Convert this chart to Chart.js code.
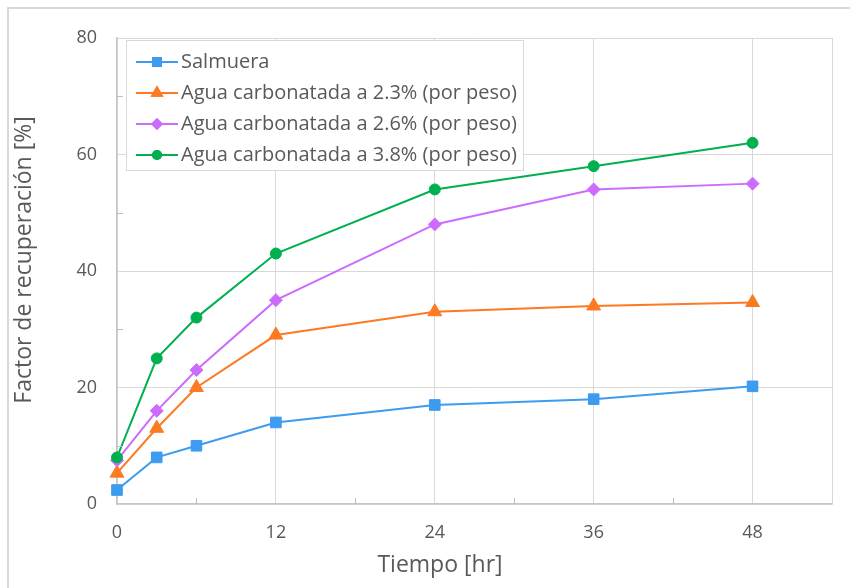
<!DOCTYPE html>
<html>
<head>
<meta charset="utf-8">
<title>Factor de recuperación</title>
<script src="https://cdn.jsdelivr.net/npm/chart.js@4.4.1/dist/chart.umd.min.js"></script>
<style>
  html, body { margin: 0; padding: 0; background: #fff; }
</style>
</head>
<body>
<canvas id="recuperacion" width="850" height="588"></canvas>
<script>
// tiempo de ensayo [hr] y factor de recuperación [%] por fluido
var tiempo = [0, 3, 6, 12, 24, 36, 48];
var salmuera = [2.4, 8, 10, 14, 17, 18, 20.2];
var agua23 = [5.3, 13, 20, 29, 33, 34, 34.6];
var agua26 = [7.5, 16, 23, 35, 48, 54, 55];
var agua38 = [8, 25, 32, 43, 54, 58, 62];

var nombres = [
  'Salmuera',
  'Agua carbonatada a 2.3% (por peso)',
  'Agua carbonatada a 2.6% (por peso)',
  'Agua carbonatada a 3.8% (por peso)'
];
var xTicks = [0, 12, 24, 36, 48];
var yTicks = [0, 20, 40, 60, 80];

var colores = ['#3d9bf0', '#fb7a22', '#cc6cff', '#00b050'];
var marcas = ['rect', 'triangle', 'rectRot', 'circle'];
var radios = [7.5, 8, 6.5, 5.5];
var series = [salmuera, agua23, agua26, agua38];

var gris = '#595959';
var fuente = "'Open Sans', 'Noto Sans', sans-serif";

function puntos(valores) {
  return tiempo.map(function (t, i) { return { x: t, y: valores[i] }; });
}

// icono de leyenda: linea con el marcador en el centro
function icono(i) {
  var c = document.createElement('canvas');
  c.width = 44; c.height = 20;
  var g = c.getContext('2d');
  g.strokeStyle = colores[i];
  g.lineWidth = 2;
  g.beginPath(); g.moveTo(1, 10); g.lineTo(43, 10); g.stroke();
  g.fillStyle = colores[i];
  Chart.helpers.drawPoint(g, { pointStyle: marcas[i], radius: radios[i] - 0.5, borderWidth: 0 }, 22, 10);
  g.fill();
  return c;
}

// marcas menores hacia dentro del area de trazado
var marcasMenores = {
  id: 'marcasMenores',
  afterDatasetsDraw: function (chart) {
    var ctx = chart.ctx, a = chart.chartArea;
    var sx = chart.scales.x, sy = chart.scales.y;
    ctx.save();
    ctx.strokeStyle = '#bfbfbf';
    ctx.lineWidth = 1;
    ctx.beginPath();
    [6, 18, 30, 42].forEach(function (v) {
      var px = Math.round(sx.getPixelForValue(v)) + 0.5;
      ctx.moveTo(px, a.bottom); ctx.lineTo(px, a.bottom - 6);
    });
    [10, 30, 50, 70].forEach(function (v) {
      var py = Math.round(sy.getPixelForValue(v)) + 0.5;
      ctx.moveTo(a.left, py); ctx.lineTo(a.left + 6, py);
    });
    ctx.stroke();
    ctx.restore();
  }
};

// marco exterior, titulos de ejes y recuadro de la leyenda
var adornos = {
  id: 'adornos',
  beforeDraw: function (chart) {
    var ctx = chart.ctx;
    ctx.save();
    ctx.strokeStyle = '#d9d9d9';
    ctx.lineWidth = 2;
    ctx.strokeRect(8, 8, 900, 900);
    ctx.restore();
  },
  afterLayout: function (chart) {
    var lg = chart.legend;
    lg.left = chart.chartArea.left + 15;
    lg.top = chart.chartArea.top + 3;
  },
  afterDraw: function (chart) {
    var ctx = chart.ctx, lg = chart.legend;
    var cajas = lg.legendHitBoxes;
    if (cajas && cajas.length) {
      var izq = lg.left - 6, arr = lg.top - 1, der = 0, abj = 0;
      cajas.forEach(function (h) {
        der = Math.max(der, h.left + h.width);
        abj = Math.max(abj, h.top + h.height);
      });
      der += 6; abj += 5;
      ctx.save();
      ctx.fillStyle = '#ffffff';
      ctx.fillRect(izq, arr, der - izq, abj - arr);
      ctx.strokeStyle = '#d9d9d9';
      ctx.lineWidth = 1;
      ctx.strokeRect(Math.round(izq) + 0.5, Math.round(arr) + 0.5, Math.round(der - izq), Math.round(abj - arr));
      ctx.restore();
      lg.draw();
    }
    ctx.save();
    ctx.fillStyle = gris;
    ctx.font = '23px ' + fuente;
    ctx.textAlign = 'center';
    ctx.textBaseline = 'middle';
    ctx.fillText('Tiempo [hr]', 440, 565);
    ctx.translate(24, 260);
    ctx.rotate(-Math.PI / 2);
    ctx.fillText('Factor de recuperación [%]', 0, 0);
    ctx.restore();
  }
};

var ctx = document.getElementById('recuperacion').getContext('2d');
var chart = new Chart(ctx, {
  type: 'line',
  data: {
    datasets: series.map(function (s, i) {
      return {
        label: nombres[i],
        data: puntos(s),
        order: series.length - i, // las ultimas series quedan encima
        borderColor: colores[i],
        backgroundColor: colores[i],
        borderWidth: 2,
        pointStyle: marcas[i],
        pointRadius: radios[i],
        pointBorderWidth: 1,
        pointBorderColor: colores[i],
        pointBackgroundColor: colores[i],
        tension: 0,
        fill: false,
        clip: false
      };
    })
  },
  options: {
    responsive: false,
    animation: false,
    layout: { padding: { top: 38, right: 17, left: 0, bottom: 0 } },
    scales: {
      x: {
        type: 'linear',
        min: 0,
        max: 54,
        afterBuildTicks: function (s) {
          var t = [];
          for (var v = 0; v <= 54; v += 6) t.push({ value: v });
          s.ticks = t;
        },
        afterFit: function (s) { s.height = 84; },
        grid: {
          z: -1,
          drawTicks: false,
          color: function (c) {
            var v = c.tick ? c.tick.value : 0;
            return (xTicks.indexOf(v) >= 0 || v === 54) ? '#d9d9d9' : 'rgba(0,0,0,0)';
          }
        },
        border: { color: '#c6c6c6', width: 1.5 },
        ticks: {
          autoSkip: false,
          maxRotation: 0,
          padding: 18,
          color: gris,
          font: { family: fuente, size: 18 },
          callback: function (v) { return xTicks.indexOf(v) >= 0 ? String(v) : ''; }
        }
      },
      y: {
        min: 0,
        max: 80,
        afterBuildTicks: function (s) {
          s.ticks = yTicks.map(function (v) { return { value: v }; });
        },
        afterFit: function (s) { s.width = 117; },
        grid: { z: -1, drawTicks: false, color: '#d9d9d9' },
        border: { color: '#c6c6c6', width: 1.5 },
        ticks: {
          padding: 20,
          color: gris,
          font: { family: fuente, size: 18 }
        }
      }
    },
    plugins: {
      legend: {
        position: 'chartArea',
        align: 'start',
        labels: {
          usePointStyle: true,
          pointStyleWidth: 28,
          padding: 11,
          color: gris,
          font: { family: fuente, size: 20 },
          generateLabels: function (c) {
            return c.data.datasets.map(function (ds, i) {
              return {
                text: ds.label,
                pointStyle: icono(i),
                datasetIndex: i,
                hidden: false,
                lineWidth: 0,
                fontColor: gris
              };
            });
          }
        }
      },
      tooltip: { enabled: false }
    }
  },
  plugins: [marcasMenores, adornos]
});
</script>
</body>
</html>
